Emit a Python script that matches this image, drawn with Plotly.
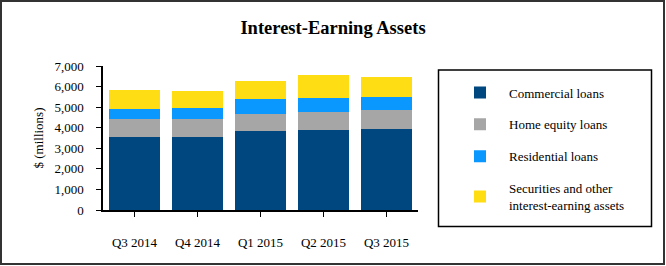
import plotly.graph_objects as go

quarters = ["Q3 2014", "Q4 2014", "Q1 2015", "Q2 2015", "Q3 2015"]
commercial = [3530, 3560, 3830, 3880, 3930]
home_equity = [870, 870, 860, 890, 910]
residential = [530, 550, 690, 660, 660]
securities = [900, 790, 870, 1150, 950]

series = [
    ("Commercial loans", commercial, "#00467F"),
    ("Home equity loans", home_equity, "#A6A6A6"),
    ("Residential loans", residential, "#0A98FF"),
    ("Securities and other<br>interest-earning assets", securities, "#FFDD15"),
]

W, H = 666, 266
L, R, T, B = 103, 248, 66, 56
pw, ph = W - L - R, H - T - B

def px_x(px):
    return (px - L) / pw

def px_y(py):
    return (H - B - py) / ph

FONT = "Liberation Serif, Times New Roman, serif"

fig = go.Figure()
for i, (name, vals, col) in enumerate(series):
    fig.add_trace(go.Bar(x=quarters, y=vals, name=name, marker_color=col,
                         marker_line_width=0, legendgroup=str(i)))

fig.update_layout(
    width=W, height=H,
    margin=dict(l=L, r=R, t=T, b=B, autoexpand=False),
    barmode="stack", bargap=0.19,
    plot_bgcolor="white", paper_bgcolor="white",
    font=dict(family=FONT, size=13, color="black"),
    title=dict(text="<b>Interest-Earning Assets</b>", x=0.5, xref="container",
               y=1 - 28 / H, yref="container", yanchor="middle", xanchor="center",
               font=dict(family=FONT, size=18.5, color="black")),
    showlegend=True,
    legend=dict(x=px_x(451), y=px_y(77.5), xanchor="left", yanchor="top",
                traceorder="grouped", tracegroupgap=12, itemwidth=48,
                bgcolor="rgba(0,0,0,0)", borderwidth=0,
                font=dict(family=FONT, size=13, color="black")),
    shapes=[
        dict(type="rect", xref="paper", yref="paper",
             x0=px_x(1), x1=px_x(664), y0=px_y(1), y1=px_y(264),
             line=dict(color="#333333", width=2)),
        dict(type="rect", xref="paper", yref="paper",
             x0=px_x(438.5), x1=px_x(651.5), y0=px_y(70), y1=px_y(226.5),
             line=dict(color="black", width=1.5)),
    ],
)
fig.update_xaxes(showline=True, linecolor="black", linewidth=1.5,
                 ticks="outside", ticklen=5, tickcolor="black",
                 ticklabelstandoff=15, showgrid=False, range=[-0.5, 4.5])
fig.update_yaxes(showline=True, linecolor="black", linewidth=1.5,
                 ticks="outside", ticklen=5, tickcolor="black",
                 range=[0, 7000], dtick=1000, tickformat=",",
                 ticklabelstandoff=10, showgrid=False, zeroline=False,
                 title=dict(text="$ (millions)", standoff=8,
                            font=dict(family=FONT, size=13)))

fig.write_html("out.html")
